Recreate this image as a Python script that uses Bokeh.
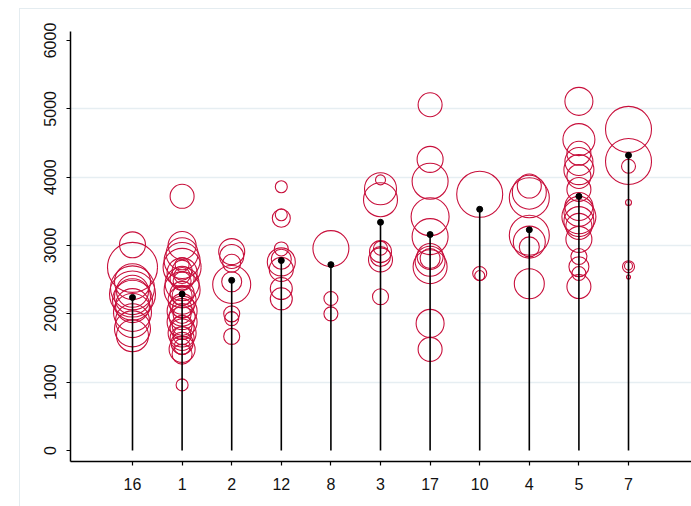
import numpy as np
from bokeh.plotting import figure
from bokeh.models import FixedTicker, Grid, ColumnDataSource, Range1d
from bokeh.embed import file_html
from bokeh.resources import INLINE

# ---- data ----
categories = ["16", "1", "2", "12", "8", "3", "17", "10", "4", "5", "7"]
means = [2240, 2290, 2490, 2780, 2720, 3340, 3160, 3530, 3230, 3720, 4320]

# bubble observations per category: values and weights (area-like)
vals_16 = [3010, 2680, 2470, 2380, 2330, 2290, 2250, 2200, 2120, 2020, 1900, 1780, 1680]
wts_16 = [169, 625, 324, 484, 256, 529, 324, 400, 289, 361, 289, 324, 256]
vals_1 = [3720, 3000, 2880, 2780, 2720, 2680, 2640, 2600, 2560, 2520, 2480, 2440,
          2350, 2300, 2270, 2200, 2120, 2080, 2040, 1990, 1960, 1880, 1830, 1800,
          1720, 1680, 1640, 1570, 1520, 1480, 1410, 960]
wts_1 = [144, 196, 256, 324, 49, 361, 100, 225, 64, 144, 81, 289,
         324, 144, 100, 196, 144, 100, 225, 81, 169, 225, 100, 144,
         196, 81, 144, 121, 64, 169, 100, 36]
vals_2 = [2910, 2840, 2740, 2470, 2430, 2000, 1930, 1670]
wts_2 = [169, 144, 81, 100, 361, 64, 49, 64]
vals_12 = [3860, 3450, 3400, 2950, 2800, 2760, 2650, 2370, 2220]
wts_12 = [36, 36, 81, 49, 100, 196, 144, 121, 121]
vals_8 = [2955, 2225, 2000]
wts_8 = [324, 49, 49]
vals_3 = [3960, 3830, 3670, 2960, 2910, 2840, 2790, 2250]
wts_3 = [25, 256, 289, 49, 121, 100, 144, 64]
vals_17 = [5060, 4260, 3940, 3420, 3130, 2840, 2810, 2770, 2690, 1860, 1480]
wts_17 = [144, 169, 324, 361, 324, 169, 100, 225, 289, 196, 144]
vals_10 = [3750, 2590, 2560]
wts_10 = [529, 49, 25]
vals_4 = [3870, 3780, 3700, 3150, 3050, 2980, 2440]
wts_4 = [144, 289, 400, 400, 256, 100, 225]
vals_5 = [5110, 4550, 4350, 4230, 4110, 4010, 3820, 3570, 3500, 3420, 3350,
          3280, 3090, 2840, 2690, 2590, 2400]
wts_5 = [196, 256, 144, 196, 225, 144, 144, 196, 225, 289, 225,
         169, 169, 64, 100, 49, 144]
vals_7 = [4700, 4230, 4160, 3630, 2700, 2690, 2540]
wts_7 = [529, 529, 49, 9, 16, 36, 4]

y_ticks = [0, 1000, 2000, 3000, 4000, 5000, 6000]
grid_ticks = [1000, 2000, 3000, 4000, 5000]

groups = [vals_16, vals_1, vals_2, vals_12, vals_8, vals_3, vals_17, vals_10, vals_4, vals_5, vals_7]
weights = [wts_16, wts_1, wts_2, wts_12, wts_8, wts_3, wts_17, wts_10, wts_4, wts_5, wts_7]

bx, by, bs = [], [], []
for i, (vs, ws) in enumerate(zip(groups, weights)):
    for v, w in zip(vs, ws):
        bx.append(i)
        by.append(v)
        bs.append(2.0 * np.sqrt(w))

RED = "#c8103c"
FONT = "Liberation Sans"

p = figure(width=672, height=498,
           x_range=Range1d(-1.25, 11.27), y_range=Range1d(-161, 6132),
           output_backend="svg", toolbar_location=None,
           min_border_left=50, min_border_right=1,
           min_border_top=22, min_border_bottom=46)
p.margin = (8, 0, 0, 19)
p.styles = {"border-top": "1px solid #e4ecf0", "border-left": "1px solid #e4ecf0"}
p.outline_line_color = None
p.background_fill_color = "white"
p.border_fill_color = "white"

p.xgrid.visible = False
p.ygrid.visible = False
p.add_layout(Grid(dimension=1, ticker=FixedTicker(ticks=grid_ticks),
                  grid_line_color="#e6eef2", grid_line_width=1.5))

src = ColumnDataSource(dict(x=bx, y=by, s=bs))
p.scatter("x", "y", size="s", source=src, marker="circle",
          fill_color=None, line_color=RED, line_width=1.1)

idx = list(range(len(categories)))
p.segment(x0=idx, y0=[0] * len(idx), x1=idx, y1=means,
          line_color="black", line_width=1.6)
p.scatter(idx, means, size=6, color="black")

# axes
p.yaxis.ticker = FixedTicker(ticks=y_ticks)
p.yaxis.major_label_orientation = "vertical"
p.yaxis.minor_tick_line_color = None
p.yaxis.major_tick_in = 0
p.yaxis.major_tick_out = 4
p.yaxis.major_label_standoff = 10
p.xaxis.ticker = FixedTicker(ticks=idx)
p.xaxis.major_label_overrides = {i: c for i, c in enumerate(categories)}
p.xaxis.minor_tick_line_color = None
p.xaxis.major_tick_in = 0
p.xaxis.major_tick_out = 4
p.xaxis.major_label_standoff = 12
for ax in (p.xaxis, p.yaxis):
    ax.axis_line_width = 1.5
    ax.axis_line_color = "black"
    ax.major_tick_line_color = "black"
    ax.major_tick_line_width = 1.2
    ax.major_label_text_font = FONT
    ax.major_label_text_font_size = "16px"
    ax.major_label_text_color = "#111111"

open("out.html", "w").write(file_html(p, INLINE))
